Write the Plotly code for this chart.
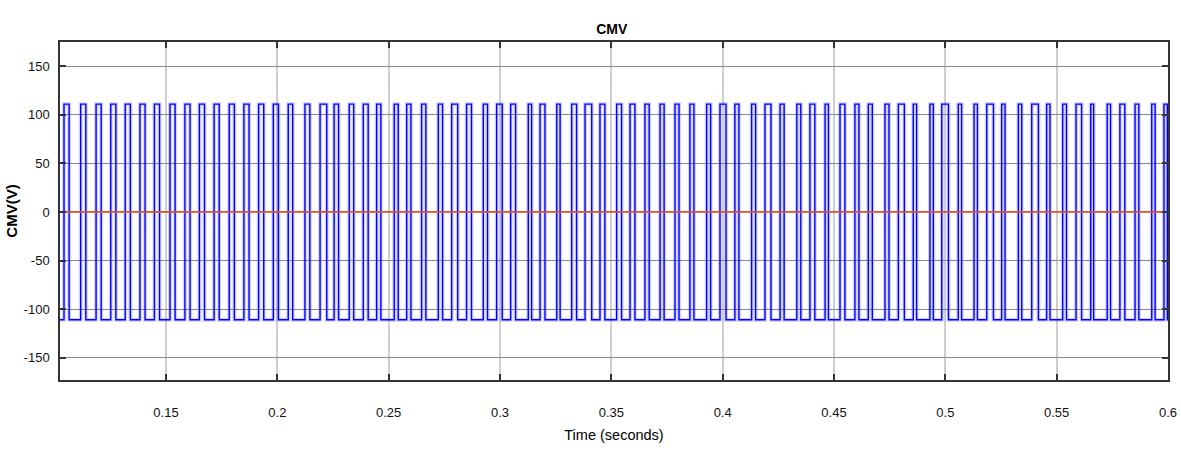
import plotly.graph_objects as go

# Rising-edge times (s) of each positive pulse of the common-mode voltage
pulse_rise = [
    0.1042, 0.1117, 0.1186, 0.1252, 0.1317, 0.1383, 0.1448, 0.1518, 0.1585, 0.1650,
    0.1716, 0.1784, 0.1850, 0.1916, 0.1982, 0.2049, 0.2124, 0.2192, 0.2255, 0.2323,
    0.2386, 0.2446, 0.2525, 0.2581, 0.2648, 0.2723, 0.2783, 0.2850, 0.2925, 0.2985,
    0.3048, 0.3127, 0.3180, 0.3255, 0.3322, 0.3382, 0.3449, 0.3524, 0.3584, 0.3651,
    0.3719, 0.3786, 0.3853, 0.3928, 0.3988, 0.4055, 0.4130, 0.4190, 0.4258, 0.4333,
    0.4392, 0.4460, 0.4527, 0.4594, 0.4654, 0.4729, 0.4789, 0.4856, 0.4931, 0.4984,
    0.5058, 0.5129, 0.5186, 0.5253, 0.5328, 0.5388, 0.5455, 0.5527, 0.5587, 0.5653,
    0.5727, 0.5784, 0.5852, 0.5927, 0.5982,
]
# Duration (s) each pulse stays at the positive level
pulse_width = [
    0.0023, 0.0023, 0.0023, 0.0023, 0.0023, 0.0023, 0.0023, 0.0023, 0.0023, 0.0023,
    0.0023, 0.0023, 0.0023, 0.0023, 0.0023, 0.0020, 0.0022, 0.0030, 0.0020, 0.0020,
    0.0022, 0.0019, 0.0018, 0.0019, 0.0019, 0.0019, 0.0027, 0.0022, 0.0019, 0.0025,
    0.0022, 0.0015, 0.0022, 0.0015, 0.0022, 0.0030, 0.0022, 0.0022, 0.0022, 0.0019,
    0.0018, 0.0018, 0.0018, 0.0018, 0.0027, 0.0018, 0.0018, 0.0027, 0.0018, 0.0018,
    0.0022, 0.0015, 0.0022, 0.0018, 0.0018, 0.0018, 0.0027, 0.0015, 0.0015, 0.0030,
    0.0015, 0.0015, 0.0030, 0.0015, 0.0015, 0.0030, 0.0015, 0.0017, 0.0025, 0.0013,
    0.0015, 0.0022, 0.0017, 0.0015, 0.0015,
]
v_high = 111.0
v_low = -111.0
t_start = 0.1024
t_end = 0.6

# Build the square-wave polyline from the edge times
t_wave = [t_start]
v_wave = [v_low]
for rise, width in zip(pulse_rise, pulse_width):
    fall = min(rise + width, t_end)
    t_wave += [rise, rise, fall, fall]
    v_wave += [v_low, v_high, v_high, v_low if fall < t_end else v_high]
if t_wave[-1] < t_end:
    t_wave.append(t_end)
    v_wave.append(v_wave[-1])

ref_t = [t_start, t_end]
ref_v = [0.0, 0.0]

x_ticks = [0.15, 0.2, 0.25, 0.3, 0.35, 0.4, 0.45, 0.5, 0.55, 0.6]
x_labels = ["0.15", "0.2", "0.25", "0.3", "0.35", "0.4", "0.45", "0.5", "0.55", "0.6"]
y_ticks = [-150, -100, -50, 0, 50, 100, 150]
y_labels = ["-150", "-100", "-50", "0", "50", "100", "150"]

txt_font = "Liberation Sans, Arial, sans-serif"

fig = go.Figure()
# soft halo around the switching edges
fig.add_trace(go.Scatter(x=t_wave, y=v_wave, mode="lines",
                         line=dict(color="rgba(60,60,255,0.22)", width=4),
                         hoverinfo="skip", showlegend=False))
fig.add_trace(go.Scatter(x=t_wave, y=v_wave, mode="lines",
                         line=dict(color="#0000ff", width=1.4),
                         showlegend=False, name="CMV"))
fig.add_trace(go.Scatter(x=ref_t, y=ref_v, mode="lines",
                         line=dict(color="#d9531e", width=1.8),
                         showlegend=False, name="ref"))

fig.update_layout(
    width=1181, height=450,
    margin=dict(l=60, r=13, t=42, b=70),
    paper_bgcolor="white", plot_bgcolor="white",
    title=dict(text="<b>CMV</b>", x=0.518, xanchor="center", y=0.935, yanchor="middle",
               font=dict(family=txt_font, size=14, color="#000")),
    font=dict(family=txt_font, size=12, color="#111"),
)
fig.update_xaxes(
    range=[t_start, t_end], tickvals=x_ticks, ticktext=x_labels,
    automargin=False,
    showgrid=True, gridcolor="#cfcfcf", gridwidth=1.5,
    zeroline=False, showline=True, linecolor="#333", linewidth=1.5, mirror="ticks",
    ticks="inside", ticklen=6, tickcolor="#333", tickwidth=1.5,
    ticklabelstandoff=20,
    tickfont=dict(family=txt_font, size=13, color="#111"),
    title=dict(text="Time (seconds)", standoff=11,
               font=dict(family=txt_font, size=14.5, color="#000")),
)
fig.update_yaxes(
    range=[-173, 175], tickvals=y_ticks, ticktext=y_labels,
    automargin=False,
    showgrid=True, gridcolor="#8a8a8a", gridwidth=1.3,
    zeroline=False, showline=True, linecolor="#333", linewidth=1.5, mirror="ticks",
    ticks="inside", ticklen=6, tickcolor="#333", tickwidth=1.5,
    ticklabelstandoff=6,
    tickfont=dict(family=txt_font, size=13, color="#111"),
    title=dict(text="<b>CMV(V)</b>", standoff=2,
               font=dict(family=txt_font, size=15, color="#000")),
)

fig.write_html("out.html")
